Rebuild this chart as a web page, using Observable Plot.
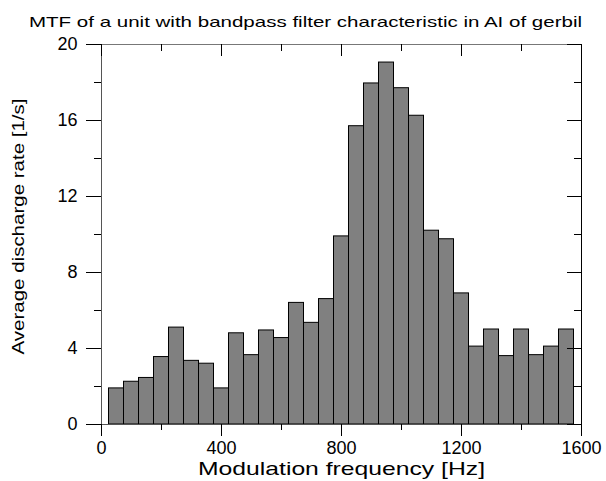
<!DOCTYPE html>
<html><head><meta charset="utf-8">
<script src="https://cdn.jsdelivr.net/npm/d3@7"></script>
<script src="https://cdn.jsdelivr.net/npm/@observablehq/plot@0.6"></script>
<style>body{margin:0;background:#fff} svg{display:block}</style>
</head><body><div id="chart"></div>
<script>
const title = "MTF of a unit with bandpass filter characteristic in AI of gerbil";
const xLabel = "Modulation frequency [Hz]";
const yLabel = "Average discharge rate [1/s]";
const binCenters = [50,100,150,200,250,300,350,400,450,500,550,600,650,700,750,800,850,900,950,1000,1050,1100,1150,1200,1250,1300,1350,1400,1450,1500,1550];
const binWidth = 50;
const rates = [1.9,2.25,2.45,3.55,5.1,3.35,3.2,1.9,4.8,3.65,4.95,4.55,6.4,5.35,6.6,9.9,15.7,17.95,19.05,17.7,16.25,10.2,9.75,6.9,4.1,5.0,3.6,5.0,3.65,4.1,5.0];
const xTicksMajor = [0,400,800,1200,1600];
const xTicksMinor = [200,600,1000,1400];
const yTicksMajor = [0,4,8,12,16,20];
const yTicksMinor = [2,6,10,14,18];
const xDomain = [0,1600];
const yDomain = [0,20];

const bins = binCenters.map((c,i)=>({x1:c-binWidth/2, x2:c+binWidth/2, y:rates[i]}));
const font = "'Liberation Sans', Arial, sans-serif";
const fmt = d => String(d);

const svg = Plot.plot({
  width: 606, height: 481,
  marginLeft: 101, marginRight: 25, marginTop: 44, marginBottom: 57,
  style: {fontFamily: font, background: "#fff", color: "#000"},
  x: {domain: xDomain, label: null},
  y: {domain: yDomain, label: null},
  marks: [
    Plot.rectY(bins, {x1:"x1", x2:"x2", y:"y", fill:"#808080", stroke:"#000", strokeWidth:1}),
    Plot.ruleY([0], {stroke:"#555"}),
    Plot.ruleY([20], {stroke:"#777"}),
    Plot.ruleX([0], {stroke:"#555"}),
    Plot.ruleX([1600], {stroke:"#000"}),
    Plot.axisY({ticks: yTicksMajor, tickFormat: fmt, anchor:"left", tickSize:15, tickPadding:9, fontSize:18, label:null}),
    Plot.axisY({ticks: yTicksMinor, anchor:"left", tickSize:7, fill:"none", label:null}),
    Plot.axisY({ticks: yTicksMajor, anchor:"left", frameAnchor:"right", tickSize:14, fill:"none", label:null}),
    Plot.axisY({ticks: yTicksMinor, anchor:"left", frameAnchor:"right", tickSize:7, fill:"none", label:null}),
    Plot.axisX({ticks: xTicksMajor, tickFormat: fmt, anchor:"bottom", tickSize:12, tickPadding:5, fontSize:18, label:null}),
    Plot.axisX({ticks: xTicksMinor, anchor:"bottom", tickSize:6, fill:"none", label:null}),
    Plot.axisX({ticks: xTicksMajor, anchor:"bottom", frameAnchor:"top", tickSize:12, fill:"none", label:null}),
    Plot.axisX({ticks: xTicksMinor, anchor:"bottom", frameAnchor:"top", tickSize:7, fill:"none", label:null}),
    Plot.text([title], {text: d=>d, frameAnchor:"top", textAnchor:"middle", dx:-36, dy:-18, lineAnchor:"bottom", fontSize:15, fill:"#000"}),
    Plot.text([xLabel], {text: d=>d, frameAnchor:"bottom", textAnchor:"middle", dx:0, dy:50, lineAnchor:"bottom", fontSize:19, fill:"#000"}),
    Plot.text([yLabel], {text: d=>d, frameAnchor:"left", textAnchor:"middle", dx:-83, dy:-8, rotate:-90, lineAnchor:"middle", fontSize:17, fill:"#000"})
  ]
});
document.getElementById("chart").appendChild(svg);

const targets = {[title]: 553, [xLabel]: 287, [yLabel]: 256};
svg.querySelectorAll("text").forEach(t => {
  const w = targets[t.textContent];
  if (w) { t.setAttribute("textLength", w); t.setAttribute("lengthAdjust", "spacingAndGlyphs"); }
});
</script>
</body></html>
